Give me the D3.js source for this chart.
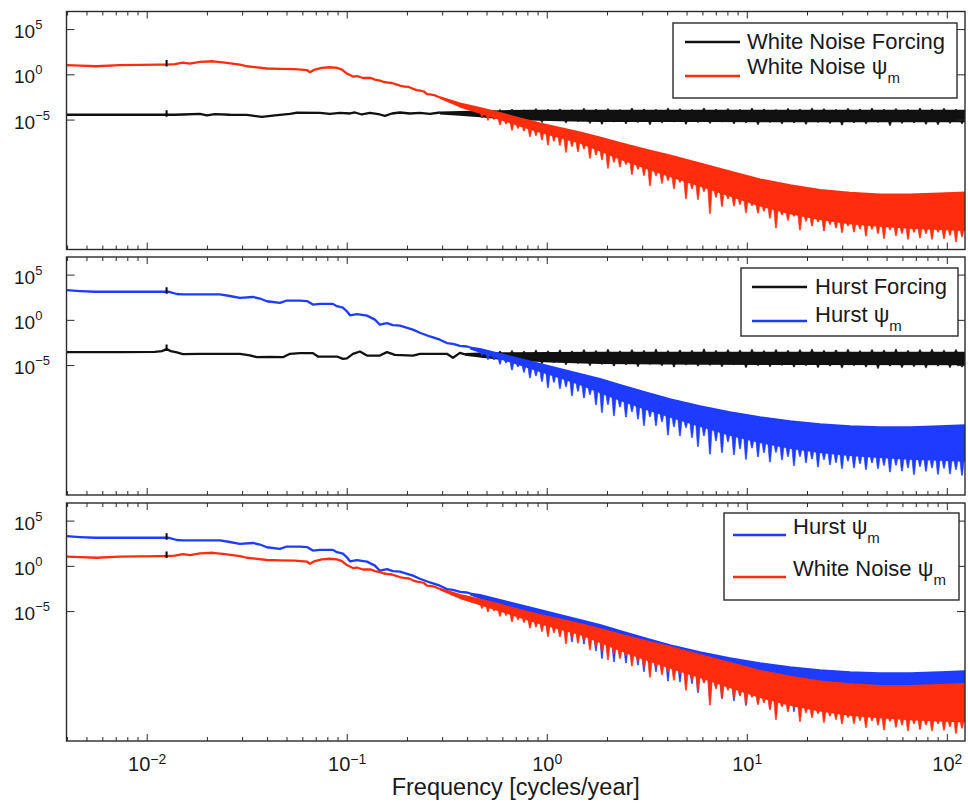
<!DOCTYPE html>
<html><head><meta charset="utf-8">
<script src="https://cdn.jsdelivr.net/npm/d3@7"></script>
<style>
body{margin:0;background:#fff}
svg text{font-family:'Liberation Sans',Arial,Helvetica,sans-serif;fill:#1a1a1a}
</style>
</head><body>
<svg id="c" width="968" height="806"></svg>
<script>
// ---------------- axes ----------------
const freqDomain = [0.00395, 122.6];          // cycles/year
const powerExpDomain = [-19.3, 7.0];          // log10 of power
const xTickVals = [0.01, 0.1, 1, 10, 100];
const xTickExp = ["\u22122", "\u22121", "0", "1", "2"];
const yTickVals = [1e5, 1, 1e-5];
const yTickExp = ["5", "0", "\u22125"];
const xTitle = "Frequency [cycles/year]";
const markFreq = 0.0125;

// shared frequency grid of the high-frequency noise spikes
const spikeFreq = [
  0.4716,0.5052,0.5414,0.5803,0.6218,0.6663,0.7140,0.7651,0.8196,
  0.8780,0.9408,1.0081,1.0802,1.1575,1.2403,1.3290,1.4241,1.5260,
  1.6351,1.7520,1.8774,2.0117,2.1556,2.3094,2.4746,2.6516,2.8414,
  3.0447,3.2622,3.4955,3.7454,4.0133,4.3003,4.6079,4.9374,5.2906,
  5.6689,6.0743,6.5089,6.9743,7.4731,8.0076,8.5803,9.1940,9.8514,
  10.556,11.311,12.119,12.986,13.915,14.910,15.976,17.119,18.343,
  19.655,21.060,22.567,24.180,25.910,27.763,29.748,31.876,34.155,
  36.598,39.215,42.019,45.024,48.243,51.694,55.390,59.351,63.595,
  68.143,73.016,78.237,83.833,89.828,96.25,103.13,110.51,118.41];

// ---------------- White Noise Forcing (black) ----------------
const wnForceLineF = [0.00395,0.0073,0.01157,0.0125,0.01375,0.01508,0.01835,0.01988,0.02181,0.02591,0.0315,0.03745,0.0435,0.05172,0.0554,0.07305,0.08195,0.09194,0.1032,0.1093,0.1184,0.1299,0.1457,0.1543,0.1673,0.1834,0.2058,0.2309,0.2591,0.2907];
const wnForceLineExp = [-4.41,-4.41,-4.41,-4.41,-4.41,-4.38,-4.32,-4.49,-4.35,-4.41,-4.43,-4.65,-4.49,-4.32,-4.19,-4.21,-4.32,-4.21,-4.27,-4.16,-4.38,-4.21,-4.38,-4.54,-4.27,-4.16,-4.27,-4.21,-4.32,-4.16];
const wnForceBandF = [0.2907,0.3661,0.4609,0.5803,0.8196,1.1575,1.8345,5.801,18.35,58.01,122.6];
const wnForceBandHiExp = [-4.16,-4.10,-4.05,-4.00,-3.97,-3.96,-3.95,-3.95,-3.95,-3.95,-3.95];
const wnForceBandLoExp = [-4.27,-4.42,-4.60,-4.78,-4.95,-5.03,-5.10,-5.12,-5.13,-5.13,-5.15];
const wnForceSpikeExp = [
  -4.70,-3.90,-4.85,-3.85,-5.00,-3.80,-5.10,-3.88,-5.15,
  -3.75,-5.25,-3.82,-5.05,-3.78,-5.30,-3.85,-5.15,-3.72,
  -5.35,-3.80,-5.45,-3.75,-5.20,-3.85,-5.40,-3.70,-5.25,
  -3.78,-5.50,-3.82,-5.30,-3.70,-5.20,-3.76,-5.45,-3.84,
  -5.25,-3.68,-5.35,-3.80,-5.20,-3.74,-5.40,-3.82,-5.30,
  -3.70,-5.50,-3.78,-5.25,-3.85,-5.40,-3.72,-5.30,-3.80,
  -5.45,-3.70,-5.25,-3.76,-5.35,-3.82,-5.55,-3.72,-5.30,
  -3.78,-5.40,-3.70,-5.25,-3.80,-5.60,-3.74,-5.35,-3.82,
  -5.30,-3.70,-5.45,-3.78,-5.50,-3.72,-5.35,-3.80,-5.40];

// ---------------- White Noise psi_m (red) ----------------
const wnPsiLineF = [0.00395,0.00461,0.0056,0.0073,0.01157,0.0125,0.01375,0.01508,0.01635,0.01835,0.02131,0.02446,0.02907,0.0315,0.03455,0.03967,0.04609,0.05477,0.06288,0.06509,0.06894,0.07471,0.08195,0.08882,0.09408,0.09966,0.1068,0.1118,0.1157,0.1198,0.1255,0.1314,0.1376,0.1457,0.1526,0.1598,0.1673,0.1772,0.1855,0.1943,0.2034,0.213,0.2231,0.2309,0.2418,0.2503,0.2591,0.2713,0.2907];
const wnPsiLineExp = [1.08,1.03,0.95,1.08,1.14,1.14,1.19,1.36,1.25,1.43,1.50,1.36,1.14,0.95,0.86,0.70,0.66,0.64,0.53,0.29,0.58,0.77,0.84,0.77,0.58,0.14,-0.19,-0.13,-0.24,-0.35,-0.33,-0.35,-0.52,-0.63,-0.79,-0.85,-0.90,-1.07,-1.23,-1.29,-1.34,-1.54,-1.68,-1.73,-1.84,-2.12,-2.17,-2.23,-2.50];
const wnPsiBandF = [0.2907,0.366,0.461,0.580,0.731,0.920,1.16,1.46,1.83,2.31,3.08,4.11,5.80,8.19,11.6,16.4,23.1,32.6,46.1,65.1,91.9,122.6];
const wnPsiBandHiExp = [-2.45,-3.16,-3.66,-4.21,-4.82,-5.37,-5.87,-6.36,-6.91,-7.52,-8.24,-8.90,-9.78,-10.66,-11.54,-12.20,-12.70,-13.03,-13.20,-13.20,-13.09,-12.98];
const wnPsiBandLoExp = [-2.56,-3.50,-4.20,-4.90,-5.60,-6.30,-6.90,-7.50,-8.35,-9.25,-10.25,-11.20,-12.25,-13.35,-14.45,-15.30,-15.95,-16.40,-16.70,-16.90,-17.05,-17.15];
const wnPsiSpikeExp = [
  -4.63,-5.02,-4.92,-5.52,-5.42,-6.12,-5.91,-6.21,-6.81,
  -6.71,-7.20,-7.76,-7.33,-7.79,-8.56,-7.92,-8.49,-8.19,
  -9.22,-8.86,-9.39,-10.32,-9.66,-10.19,-9.90,-11.01,-10.42,
  -11.13,-12.25,-11.16,-11.97,-11.68,-12.58,-11.88,-13.68,-12.58,
  -13.77,-12.89,-15.31,-13.53,-14.55,-13.68,-14.50,-14.32,-15.24,
  -14.46,-15.28,-15.07,-15.84,-16.92,-15.49,-16.07,-15.62,-17.15,
  -16.18,-16.71,-16.25,-17.25,-16.54,-16.92,-17.41,-16.70,-17.37,
  -17.04,-17.81,-17.07,-17.54,-18.09,-17.13,-17.77,-17.52,-18.17,
  -17.39,-18.02,-17.54,-18.16,-17.38,-18.10,-17.72,-18.45,-17.89];

// ---------------- Hurst Forcing (black) ----------------
const hForceLineF = [0.00395,0.0073,0.01093,0.01184,0.0125,0.01314,0.01407,0.01508,0.01835,0.02907,0.03262,0.03536,0.04108,0.04771,0.05172,0.05803,0.06739,0.07137,0.08882,0.09517,0.09966,0.1068,0.1157,0.1255,0.1457,0.158,0.1732,0.213,0.2309,0.315,0.3377,0.3661,0.3877];
const hForceLineExp = [-3.51,-3.51,-3.48,-3.40,-3.18,-3.40,-3.55,-3.73,-3.70,-3.70,-3.87,-4.07,-4.03,-4.07,-3.70,-3.62,-3.62,-4.00,-4.00,-4.26,-4.20,-3.70,-3.44,-3.89,-3.89,-3.51,-3.81,-3.89,-3.70,-3.70,-4.14,-3.59,-3.75];
const hForceBandF = [0.3877,0.4609,0.5803,1.0316,1.8345,5.801,18.35,122.6];
const hForceBandHiExp = [-3.70,-3.65,-3.62,-3.60,-3.58,-3.58,-3.58,-3.58];
const hForceBandLoExp = [-3.80,-4.00,-4.25,-4.55,-4.72,-4.80,-4.84,-4.86];
const hForceSpikeExp = [
  -4.10,-3.45,-4.30,-3.40,-4.45,-3.35,-4.60,-3.42,-4.70,
  -3.30,-4.80,-3.38,-4.65,-3.28,-4.90,-3.40,-4.75,-3.25,
  -5.00,-3.35,-4.85,-3.22,-5.05,-3.38,-4.90,-3.26,-5.10,
  -3.34,-4.85,-3.20,-5.00,-3.36,-5.15,-3.28,-4.90,-3.32,
  -5.05,-3.18,-4.95,-3.34,-5.10,-3.26,-4.90,-3.30,-5.20,
  -3.22,-5.00,-3.36,-5.10,-3.24,-4.95,-3.32,-5.15,-3.26,
  -5.00,-3.20,-5.20,-3.34,-5.05,-3.28,-5.25,-3.22,-5.00,
  -3.36,-5.15,-3.24,-5.30,-3.30,-5.05,-3.20,-5.20,-3.34,
  -5.10,-3.26,-5.25,-3.22,-5.05,-3.32,-5.20,-3.24,-5.15];

// ---------------- Hurst psi_m (blue) ----------------
const hPsiLineF = [0.00395,0.00461,0.00548,0.0073,0.01157,0.0125,0.01299,0.01407,0.01508,0.01835,0.02309,0.02591,0.02907,0.03377,0.03661,0.03967,0.04609,0.04995,0.05803,0.06288,0.06739,0.07305,0.08482,0.08882,0.09517,0.09966,0.1032,0.1118,0.1255,0.1376,0.1457,0.158,0.1692,0.1834,0.213,0.2309,0.2591,0.2907,0.315,0.3377,0.3661,0.3967,0.4108];
const hPsiLineExp = [3.33,3.24,3.16,3.16,3.16,3.16,3.13,2.91,2.86,2.86,2.86,2.69,2.49,2.58,2.41,2.11,1.93,2.19,2.19,2.13,1.74,1.82,1.82,1.56,1.41,1.00,0.56,0.69,0.52,0.08,-0.48,-0.31,-0.53,-0.59,-1.03,-1.37,-1.78,-2.14,-2.51,-2.59,-2.81,-2.89,-2.99];
const hPsiBandF = [0.4108,0.4609,0.5803,0.7305,0.9195,1.1575,1.4572,1.8345,2.3094,3.080,4.107,5.801,8.194,11.574,16.35,23.09,32.62,46.08,65.09,91.94,122.6];
const hPsiBandHiExp = [-2.99,-3.15,-3.70,-4.26,-4.81,-5.37,-5.92,-6.48,-7.14,-7.92,-8.70,-9.48,-10.15,-10.70,-11.15,-11.48,-11.70,-11.81,-11.81,-11.70,-11.59];
const hPsiBandLoExp = [-3.10,-3.50,-4.20,-4.90,-5.60,-6.30,-7.05,-7.95,-8.80,-9.75,-10.65,-11.65,-12.65,-13.45,-14.10,-14.55,-14.90,-15.10,-15.30,-15.42,-15.52];
const hPsiSpikeExp = [
  -3.85,-4.34,-4.34,-4.84,-4.71,-5.48,-5.14,-5.74,-6.35,
  -6.15,-6.75,-7.45,-6.84,-7.54,-7.34,-8.34,-7.84,-8.57,
  -8.20,-9.33,-10.17,-9.30,-10.54,-9.57,-10.68,-10.10,-10.91,
  -11.62,-10.64,-11.62,-11.20,-12.67,-11.75,-12.75,-11.85,-12.95,
  -13.95,-12.75,-14.78,-13.31,-14.61,-13.41,-14.84,-14.20,-15.36,
  -14.11,-15.07,-14.61,-15.64,-14.58,-15.41,-15.05,-16.05,-15.04,
  -15.73,-15.31,-16.20,-15.38,-15.95,-15.71,-16.38,-15.55,-16.30,
  -15.84,-16.49,-15.73,-16.38,-16.02,-16.76,-16.00,-16.65,-16.30,
  -17.03,-16.15,-16.67,-16.29,-17.01,-16.34,-16.96,-16.49,-17.12];

// ---------------- legends ----------------
const legend1 = ["White Noise Forcing", "White Noise \u03c8"];
const legend2 = ["Hurst Forcing", "Hurst \u03c8"];
const legend3 = ["Hurst \u03c8", "White Noise \u03c8"];

// =============== drawing ===============
const RED = "#ff2d0d", BLUE = "#1e3cff", BLACK = "#111111";
const pts = (F, E) => F.slice(0, Math.min(F.length, E.length)).map((f, i) => ({f, e: E[i]}));
const bandPts = (F, H, Lo) => F.map((f, i) => ({f, hi: H[i], lo: Lo[i]}));
function mk(color, lF, lE, bF, bH, bL, sE) {
  return {color, line: pts(lF, lE), band: bandPts(bF, bH, bL), spikes: pts(spikeFreq, sE)};
}
const wnForce = mk(BLACK, wnForceLineF, wnForceLineExp, wnForceBandF, wnForceBandHiExp, wnForceBandLoExp, wnForceSpikeExp);
const wnPsi = mk(RED, wnPsiLineF, wnPsiLineExp, wnPsiBandF, wnPsiBandHiExp, wnPsiBandLoExp, wnPsiSpikeExp);
const hForce = mk(BLACK, hForceLineF, hForceLineExp, hForceBandF, hForceBandHiExp, hForceBandLoExp, hForceSpikeExp);
const hPsi = mk(BLUE, hPsiLineF, hPsiLineExp, hPsiBandF, hPsiBandHiExp, hPsiBandLoExp, hPsiSpikeExp);

const svg = d3.select("#c");
const LEFT = 66.5, RIGHT = 965, PH = 238;
const x = d3.scaleLog().domain(freqDomain).range([LEFT, RIGHT]);

const panels = [
  {top: 11.5, series: [wnForce, wnPsi], leg: {x: 673, y: 23, w: 284, h: 75, sx0: 685, sx1: 740, tx: 747,
     rows: [{ly: 42, ty: 48.5, c: BLACK, t: legend1[0], sub: false}, {ly: 76, ty: 74, c: RED, t: legend1[1], sub: true}]}},
  {top: 257, series: [hForce, hPsi], leg: {x: 741, y: 268, w: 217, h: 68, sx0: 752, sx1: 807, tx: 815,
     rows: [{ly: 287, ty: 294, c: BLACK, t: legend2[0], sub: false}, {ly: 321, ty: 321.5, c: BLUE, t: legend2[1], sub: true}]}},
  {top: 503, series: [hPsi, wnPsi], leg: {x: 724, y: 513, w: 235, h: 87, sx0: 733, sx1: 786, tx: 793,
     rows: [{ly: 535, ty: 534, c: BLUE, t: legend3[0], sub: true}, {ly: 577, ty: 576, c: RED, t: legend3[1], sub: true}]}}
];

const minorTicks = [];
for (let d = -3; d <= 2; d++) for (let k = 1; k <= 9; k++) {
  const v = k * Math.pow(10, d);
  if (v >= freqDomain[0] && v <= freqDomain[1]) minorTicks.push({v, major: k === 1});
}

panels.forEach((p, pi) => {
  const bottom = p.top + PH;
  const y = d3.scaleLog().domain([Math.pow(10, powerExpDomain[0]), Math.pow(10, powerExpDomain[1])]).range([bottom, p.top]);
  const ye = e => y(Math.pow(10, e));
  const id = "clip" + pi;
  svg.append("clipPath").attr("id", id).append("rect").attr("x", LEFT).attr("y", p.top).attr("width", RIGHT - LEFT).attr("height", PH);
  const g = svg.append("g").attr("clip-path", `url(#${id})`);

  p.series.forEach(s => {
    const line = d3.line().x(d => x(d.f)).y(d => ye(d.e));
    g.append("path").attr("d", line(s.line)).attr("fill", "none").attr("stroke", s.color)
      .attr("stroke-width", 2.3).attr("stroke-linejoin", "round");
    const bf = s.band.map(d => d.f);
    const hiAt = d3.scaleLog().domain(bf).range(s.band.map(d => d.hi)).clamp(true);
    const loAt = d3.scaleLog().domain(bf).range(s.band.map(d => d.lo)).clamp(true);
    s.spikes.forEach(d => {
      const xx = x(d.f), lo = loAt(d.f), hi = hiAt(d.f);
      let yb;
      if (d.e < lo) yb = ye(lo) - 2.5; else if (d.e > hi) yb = ye(hi) + 2.5; else return;
      const yt = ye(d.e);
      g.append("path").attr("d", `M${xx - 2.3},${yb}L${xx - 0.5},${yt}L${xx + 0.5},${yt}L${xx + 2.3},${yb}Z`)
        .attr("fill", s.color).attr("stroke", s.color).attr("stroke-width", 0.6).attr("stroke-linejoin", "round");
    });
    const area = d3.area().x(d => x(d.f)).y0(d => ye(d.lo)).y1(d => ye(d.hi));
    g.append("path").attr("d", area(s.band)).attr("fill", s.color);
    const hiL = d3.line().x(d => x(d.f)).y(d => ye(d.hi));
    const loL = d3.line().x(d => x(d.f)).y(d => ye(d.lo));
    [hiL, loL].forEach(l => g.append("path").attr("d", l(s.band)).attr("fill", "none")
      .attr("stroke", s.color).attr("stroke-width", 1.8).attr("stroke-linejoin", "round"));
    const m = s.line.find(d => d.f === markFreq);
    if (m) {
      g.append("line").attr("x1", x(markFreq)).attr("x2", x(markFreq))
        .attr("y1", ye(m.e) - 4.5).attr("y2", ye(m.e) + 2).attr("stroke", "#000").attr("stroke-width", 2);
    }
  });

  // ticks
  const tk = svg.append("g").attr("stroke", "#2a2a2a").attr("stroke-width", 1);
  minorTicks.forEach(t => {
    const len = t.major ? 7 : 4, xx = x(t.v);
    tk.append("line").attr("x1", xx).attr("x2", xx).attr("y1", bottom).attr("y2", bottom - len);
    tk.append("line").attr("x1", xx).attr("x2", xx).attr("y1", p.top).attr("y2", p.top + len);
  });
  yTickVals.forEach((v, i) => {
    const yy = y(v);
    tk.append("line").attr("x1", LEFT).attr("x2", LEFT + 8).attr("y1", yy).attr("y2", yy);
    tk.append("line").attr("x1", RIGHT).attr("x2", RIGHT - 8).attr("y1", yy).attr("y2", yy);
    const t = svg.append("text").attr("x", 14).attr("y", yy + 8.5).attr("font-size", 19);
    t.append("tspan").text("10");
    t.append("tspan").attr("font-size", 13).attr("dy", -9).text(yTickExp[i]);
  });

  // frame
  svg.append("rect").attr("x", LEFT).attr("y", p.top).attr("width", RIGHT - LEFT).attr("height", PH)
    .attr("fill", "none").attr("stroke", "#2a2a2a").attr("stroke-width", 1.4);

  // legend
  const L = p.leg;
  svg.append("rect").attr("x", L.x).attr("y", L.y).attr("width", L.w).attr("height", L.h)
    .attr("fill", "#fff").attr("stroke", "#2a2a2a").attr("stroke-width", 1.4);
  L.rows.forEach(r => {
    svg.append("line").attr("x1", L.sx0).attr("x2", L.sx1).attr("y1", r.ly).attr("y2", r.ly)
      .attr("stroke", r.c).attr("stroke-width", 2.5);
    const t = svg.append("text").attr("x", L.tx).attr("y", r.ty).attr("font-size", 22);
    t.append("tspan").text(r.t);
    if (r.sub) t.append("tspan").attr("font-size", 15).attr("dy", 9).text("m");
  });

  if (pi === panels.length - 1) {
    xTickVals.forEach((v, i) => {
      const t = svg.append("text").attr("x", x(v)).attr("y", bottom + 29.5).attr("font-size", 20).attr("text-anchor", "middle");
      t.append("tspan").text("10");
      t.append("tspan").attr("font-size", 14).attr("dy", -7).text(xTickExp[i]);
    });
    svg.append("text").attr("x", (LEFT + RIGHT) / 2).attr("y", 795).attr("font-size", 23.5)
      .attr("text-anchor", "middle").text(xTitle);
  }
});
</script>
</body></html>
